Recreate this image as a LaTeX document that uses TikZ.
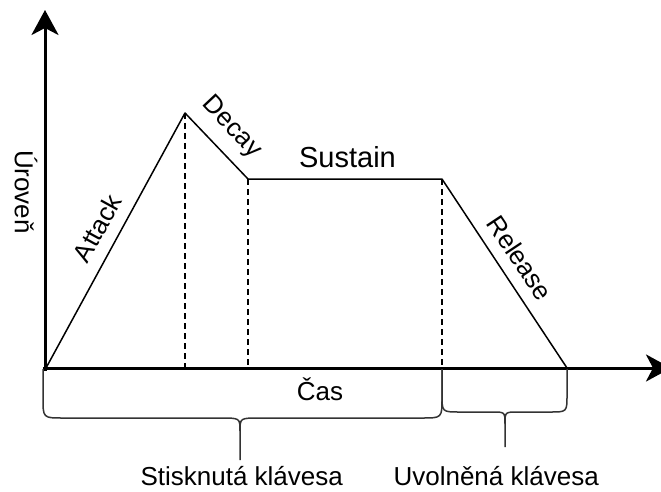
\documentclass[tikz,border=0pt]{standalone}
\usepackage{fontspec}
\setmainfont{Liberation Sans}
\usetikzlibrary{arrows.meta}
\begin{document}
\begin{tikzpicture}[x=1pt,y=1pt,
  axis/.style={line width=3pt,-{Stealth[length=25pt,width=27pt,inset=7pt]}},
  env/.style={line width=1.5pt,black},
  guide/.style={line width=1.4pt,black,dash pattern=on 6pt off 4pt},
  brace/.style={line width=1.5pt,black!80,line join=round},
  lab/.style={font=\fontsize{26}{30}\selectfont,inner sep=0pt},
  biglab/.style={font=\fontsize{29}{33}\selectfont,inner sep=0pt}]
\clip (0,0) rectangle (661,491);
\fill[white] (0,0) rectangle (661,491);
% envelope points
\coordinate (O) at (46,123);
\coordinate (P) at (185,378);
\coordinate (D) at (248,312);
\coordinate (S) at (442,312);
\coordinate (R) at (567,123);
\coordinate (P0) at (185,123);
\coordinate (D0) at (248,123);
\coordinate (S0) at (442,123);
% axes
\coordinate (yb) at (45,120);
\coordinate (yt) at (45,481);
\coordinate (xb) at (43,123);
\coordinate (xt) at (671,123);
\draw[guide] (P) -- (P0);
\draw[guide] (D) -- (D0);
\draw[guide] (S) -- (S0);
\draw[env,line join=round] (O) -- (P) -- (D) -- (S) -- (R);
\draw[axis] (yb) -- (yt);
\draw[axis] (xb) -- (xt);
% braces
\draw[brace] (43,122) -- (43,93) .. controls (43,73) and (43,73) .. (63,73) -- (220,73) .. controls (240,73) and (240,73) .. (240,60) -- (240,31);
\draw[brace] (442,122) -- (442,93) .. controls (442,73) and (442,73) .. (422,73) -- (260,73) .. controls (240,73) and (240,73) .. (240,60);
\draw[brace] (442,122) -- (442,96) .. controls (442,79) and (442,79) .. (460,79) -- (492,79) .. controls (505,79) and (505,79) .. (505,67) -- (505,44);
\draw[brace] (567,122) -- (567,96) .. controls (567,79) and (567,79) .. (550,79) -- (518,79) .. controls (505,79) and (505,79) .. (505,67);
% labels
\node[lab,rotate=-90] (lev) at (26,299) {Úroveň};
\node[lab,rotate=61.2] (att) at (97,263) {Attack};
\node[lab,rotate=-46.8] (dec) at (231.5,363.5) {Decay};
\node[biglab,anchor=base] (sus) at (347.5,324) {Sustain};
\node[lab,rotate=-56.4] (rel) at (520,233) {Release};
\node[lab,anchor=base] (cas) at (320,91) {Čas};
\node[lab,anchor=base] (pre) at (241.7,5.3) {Stisknutá klávesa};
\node[lab,anchor=base east] (rls) at (599,5.3) {Uvolněná klávesa};
\end{tikzpicture}
\end{document}
